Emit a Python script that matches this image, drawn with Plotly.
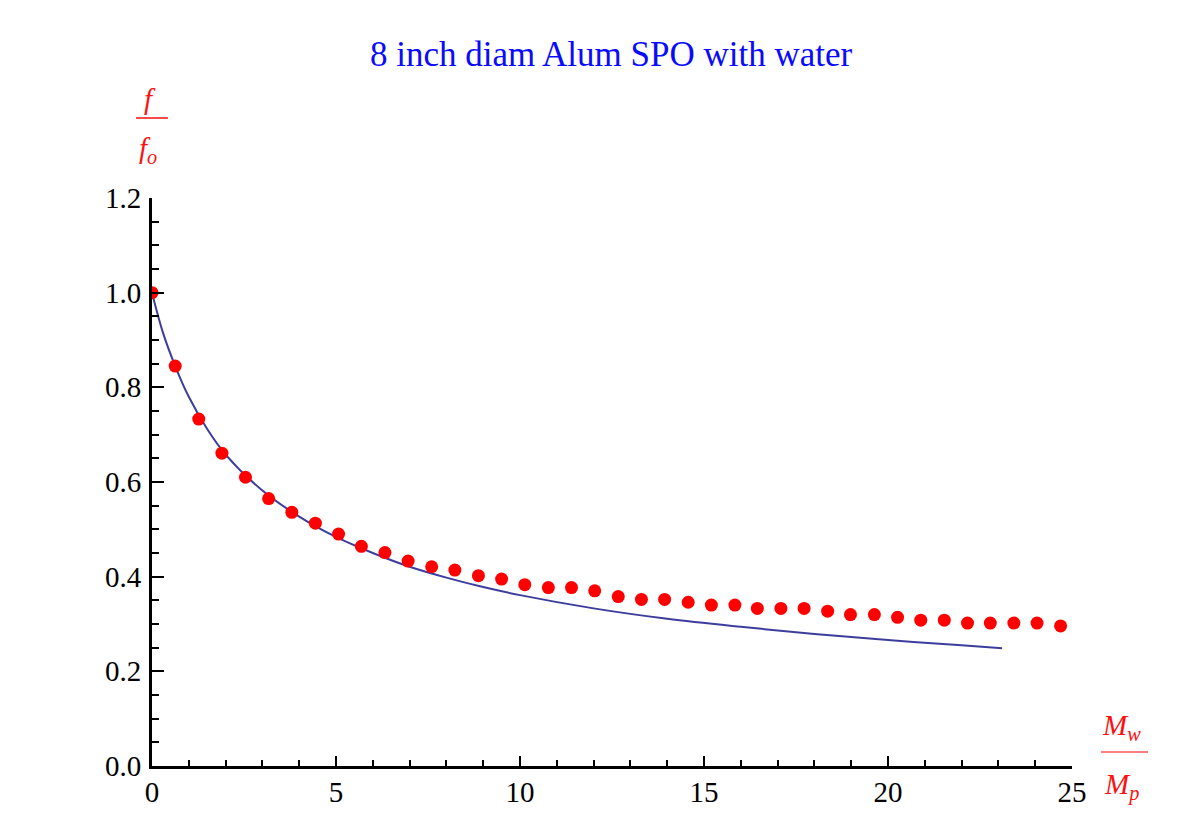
import plotly.graph_objects as go

# Measured frequency ratio f/fo against water-to-plate mass ratio Mw/Mp
mass_ratio = [0.0, 0.63, 1.27, 1.90, 2.54, 3.17, 3.80, 4.44, 5.07, 5.69,
              6.33, 6.96, 7.60, 8.23, 8.87, 9.50, 10.13, 10.77, 11.40, 12.03,
              12.67, 13.30, 13.93, 14.57, 15.20, 15.84, 16.45, 17.09, 17.72, 18.36,
              18.98, 19.63, 20.26, 20.89, 21.53, 22.16, 22.78, 23.42, 24.05, 24.69]
freq_ratio = [1.000, 0.845, 0.733, 0.661, 0.610, 0.565, 0.536, 0.513, 0.490, 0.464,
              0.451, 0.433, 0.421, 0.414, 0.402, 0.395, 0.383, 0.377, 0.377, 0.370,
              0.358, 0.352, 0.352, 0.346, 0.340, 0.340, 0.333, 0.333, 0.333, 0.327,
              0.320, 0.320, 0.314, 0.308, 0.308, 0.302, 0.302, 0.302, 0.302, 0.296]

# Model curve
model_x = [0.0, 0.3, 0.63, 1.0, 1.5, 2.0, 3.0, 4.0, 5.0, 6.0, 7.0, 8.0, 9.0,
           10.0, 12.0, 14.0, 16.0, 18.0, 20.0, 22.0, 23.1]
model_y = [1.000, 0.915, 0.845, 0.780, 0.712, 0.658, 0.582, 0.527, 0.484, 0.450,
           0.421, 0.398, 0.378, 0.361, 0.333, 0.311, 0.294, 0.279, 0.266, 0.255, 0.249]

x_ticks = [0, 5, 10, 15, 20, 25]
y_ticks = [0.0, 0.2, 0.4, 0.6, 0.8, 1.0, 1.2]

W, H = 1199, 828
L, R, T, B = 152, 1072, 198, 766  # plot area in pixels


def px(x):
    return (x - L) / (R - L)


def py(y):
    return (B - y) / (B - T)


SERIF = "Liberation Serif, Times New Roman, serif"
RED = "#ff1010"

fig = go.Figure()
fig.add_trace(go.Scatter(
    x=model_x, y=model_y, mode="lines", line_shape="spline",
    line=dict(color="#3d3d9e", width=2), hoverinfo="skip", showlegend=False))
fig.add_trace(go.Scatter(
    x=mass_ratio, y=freq_ratio, mode="markers",
    marker=dict(color="#ff0000", size=13, line=dict(width=0)),
    showlegend=False))

axis_common = dict(
    showgrid=False, zeroline=False, showline=True, linecolor="black", linewidth=3,
    ticks="inside", tickcolor="black", tickwidth=2, mirror=False,
    tickfont=dict(family=SERIF, size=29, color="black"))

fig.update_xaxes(range=[0, 25], tickvals=x_ticks, ticklen=10,
                 minor=dict(dtick=1, ticks="inside", ticklen=6, tickwidth=2, tickcolor="black"),
                 ticklabelstandoff=-2, **axis_common)
fig.update_yaxes(range=[0, 1.2], tickvals=y_ticks, tickformat=".1f", ticklen=12,
                 minor=dict(dtick=0.05, ticks="inside", ticklen=7, tickwidth=2, tickcolor="black"),
                 ticklabelstandoff=2, **axis_common)

annotations = [
    dict(text="8 inch diam Alum SPO with water", x=px(611), y=py(55),
         font=dict(family=SERIF, size=35, color="#0a0aff")),
    dict(text="<i>f</i>", x=px(150), y=py(99), font=dict(family=SERIF, size=29, color=RED)),
    dict(text="<i>f</i><sub><i>o</i></sub>", x=px(148), y=py(150), font=dict(family=SERIF, size=29, color=RED)),
    dict(text="<i>M</i><sub><i>w</i></sub>", x=px(1121), y=py(727), font=dict(family=SERIF, size=29, color=RED)),
    dict(text="<i>M</i><sub><i>p</i></sub>", x=px(1121), y=py(786), font=dict(family=SERIF, size=29, color=RED)),
]
for a in annotations:
    a.update(xref="paper", yref="paper", showarrow=False, xanchor="center", yanchor="middle")

shapes = [
    dict(type="line", xref="paper", yref="paper", x0=px(136), x1=px(168), y0=py(118), y1=py(118),
         line=dict(color="#ff4a4a", width=2)),
    dict(type="line", xref="paper", yref="paper", x0=px(1101), x1=px(1148), y0=py(752), y1=py(752),
         line=dict(color="#ff7f7f", width=2)),
]

fig.update_layout(
    width=W, height=H, autosize=False,
    margin=dict(l=L, r=W - R, t=T, b=H - B, pad=0),
    paper_bgcolor="white", plot_bgcolor="white",
    annotations=annotations, shapes=shapes, showlegend=False)

fig.write_html("out.html")
